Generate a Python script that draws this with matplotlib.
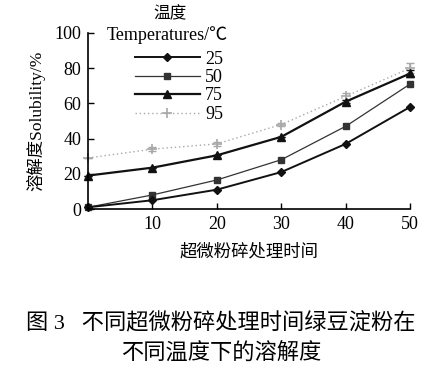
import matplotlib.pyplot as plt

plt.rcParams['font.family'] = ['Liberation Serif', 'Noto Sans CJK SC']

times = [0, 10, 20, 30, 40, 50]
temps = ['25', '50', '75', '95']
sol_25 = [1, 5, 11, 21, 37, 58]
sol_50 = [1, 8, 16.5, 28, 47, 71]
sol_75 = [19, 23.5, 30.5, 41, 61, 77]
sol_95 = [29, 34, 37, 48, 64, 80]
err_95 = [0, 1, 1, 1, 2, 3]
err_75 = [0, 0, 0, 0, 1, 2]

fig = plt.figure(figsize=(4.42, 3.70), dpi=100)
ax = fig.add_axes([0.199, 0.435, 0.729, 0.476])

ax.errorbar(times, sol_95, yerr=err_95, fmt='none', ecolor='#a8a8a8',
            elinewidth=1, capsize=3, clip_on=False)
ax.errorbar(times, sol_75, yerr=err_75, fmt='none', ecolor='#111111',
            elinewidth=1, capsize=3, clip_on=False)
l95, = ax.plot(times, sol_95, color='#a8a8a8', ls=(0, (1, 2)), lw=1.0,
               marker='+', ms=7, mew=1.2, clip_on=False)
l75, = ax.plot(times, sol_75, color='#111111', ls='-', lw=1.6,
               marker='^', ms=6, clip_on=False)
l50, = ax.plot(times, sol_50, color='#333333', ls='-', lw=0.9, marker='s',
               ms=5, clip_on=False)
l25, = ax.plot(times, sol_25, color='#111111', ls='-', lw=1.4, marker='D',
               ms=4.5, clip_on=False)

ax.set_xlim(0, 50)
ax.set_ylim(0, 100)
ax.set_xticks([10, 20, 30, 40, 50])
ax.set_yticks([0, 20, 40, 60, 80, 100])
ax.tick_params(direction='in', length=4, width=1, labelsize=13, pad=5)
for s in ['top', 'right']:
    ax.spines[s].set_visible(False)
for s in ['left', 'bottom']:
    ax.spines[s].set_linewidth(1.2)

ax.set_ylabel('溶解度Solubility/%', fontsize=12.5, labelpad=6)
ax.set_xlabel('超微粉碎处理时间', fontsize=12.5, labelpad=8)

ax.legend([l25, l50, l75, l95], temps, loc='upper left',
          bbox_to_anchor=(0.145, 0.9), frameon=False, fontsize=13,
          handlelength=3.6, handletextpad=0.3, labelspacing=0.08,
          borderaxespad=0, borderpad=0)
fig.text(0.385, 0.962, '温度', fontsize=12, ha='center', va='center')
fig.text(0.242, 0.905, 'Temperatures/℃', fontsize=13, ha='left', va='center')

fig.text(0.5, 0.125, '图 3   不同超微粉碎处理时间绿豆淀粉在', fontsize=16,
         ha='center', va='center')
fig.text(0.5, 0.045, '不同温度下的溶解度', fontsize=16, ha='center', va='center')

fig.savefig('out.png', dpi=100)
